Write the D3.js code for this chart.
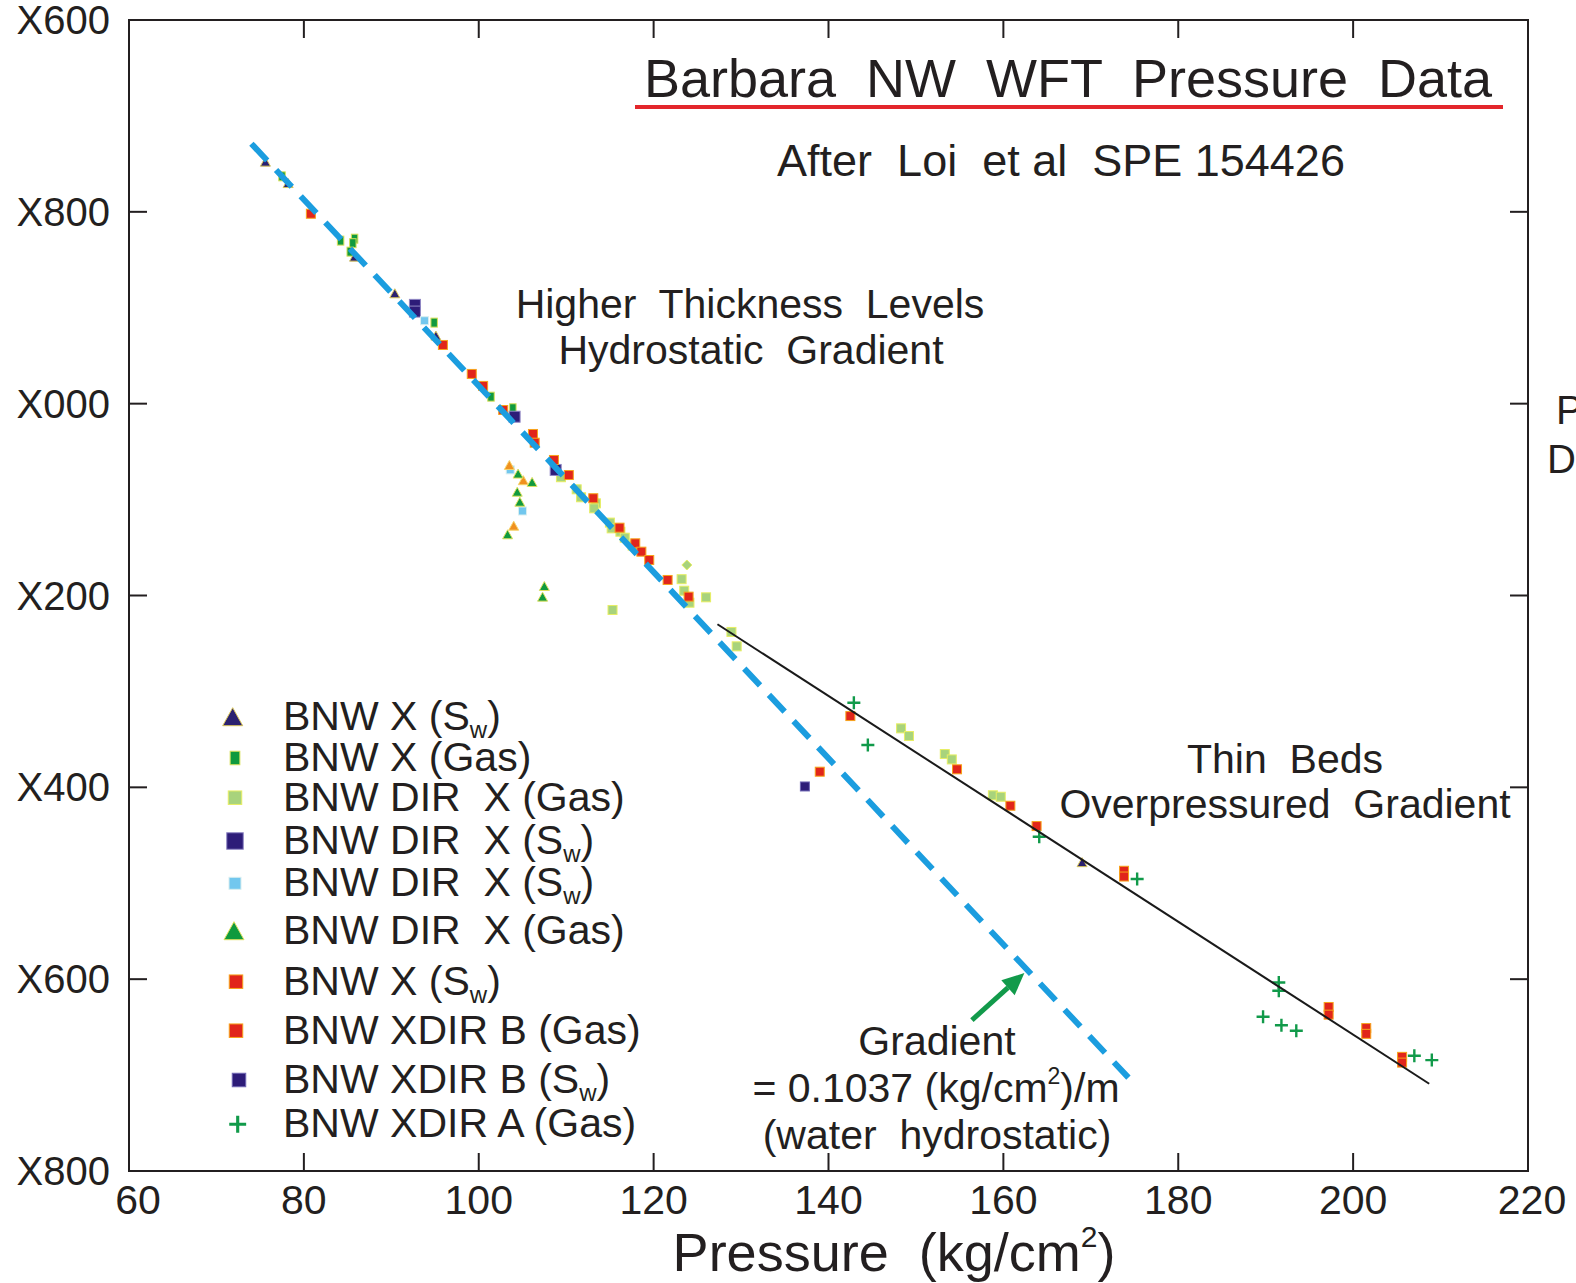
<!DOCTYPE html>
<html><head><meta charset="utf-8">
<script src="https://cdn.jsdelivr.net/npm/d3@7"></script>
<style>
body{margin:0;background:#fff}
svg{display:block}
text{font-family:"Liberation Sans",Arial,sans-serif;fill:#231f20;white-space:pre}
</style>
</head><body>
<svg id="c" width="1576" height="1283"></svg>
<script>
// ---------- data ----------
const xTicks = [60, 80, 100, 120, 140, 160, 180, 200, 220];
const xTickLabels = ["60", "80", "100", "120", "140", "160", "180", "200", "220"];
const yTicks = [600, 800, 1000, 1200, 1400, 1600, 1800];
const yTickLabels = ["X600", "X800", "X000", "X200", "X400", "X600", "X800"];

// [pressure kg/cm2, depth]
const bnwX_Sw_tri = [[75.6,747.7],[78.2,770],[85.8,846.7],[90.4,884.9],[95.1,929],[169.0,1478]];
const bnwX_Gas = [[77.5,763],[84.2,830],[85.8,828],[85.6,832.7],[85.3,841.5],[94.9,915.5],[101.4,992.7],[103.9,1004.8]];
const bnwDirX_Gas = [[109.4,1076.7],[111.2,1089.3],[111.7,1097.6],[113.4,1103.9],[113.2,1109.1],[115.0,1124],[115.2,1130],[116.2,1133.5],[116.7,1139.7],[117.6,1148],[123.2,1183],[123.5,1195],[124.1,1207.5],[126.0,1201.9],[115.3,1215.1],[128.9,1238],[129.5,1253],[148.3,1338.5],[149.2,1346.5],[153.3,1365.3],[154.1,1370.9],[158.8,1408.3],[159.7,1409.8]];
const bnwDirX_Sw_navy = [[92.7,897],[92.7,904],[104.1,1013.6],[108.8,1069.1]];
const bnwDirX_Sw_light = [[93.8,913.5],[103.6,1069],[105.0,1111.9]];
const bnwDirX_Gas_tri = [[104.5,1072.9],[106.1,1081.6],[104.4,1091.8],[104.7,1102.2],[103.3,1136.2],[107.5,1190.1],[107.3,1201.2]];
const bnwX_Sw_red = [[80.8,802],[95.9,938.8],[99.2,969],[100.5,981.5],[102.8,1006.6],[106.2,1031.6],[106.4,1040.7],[108.6,1058.7],[110.3,1074.4],[113.1,1098.6],[116.1,1129.3],[117.9,1145.6],[118.6,1154.3],[119.5,1163],[121.6,1183.8],[124.0,1201.2]];
const bnwXdirB_Gas = [[142.5,1325.7],[139.0,1383.7],[154.7,1381.2],[160.8,1419.2],[163.8,1440.4],[173.8,1487],[173.8,1493],[197.2,1629],[197.2,1637],[201.5,1651],[201.5,1657],[205.6,1681],[205.6,1687]];
const bnwXdirB_Sw = [[137.3,1399.1]];
const bnwXdirA_Gas = [[142.9,1311.8],[144.5,1355.9],[164.1,1451.5],[175.3,1495.6],[191.5,1603.4],[191.5,1612.1],[189.7,1639.2],[191.8,1648],[193.5,1653.8],[207.0,1679.9],[209.0,1684.4]];
const unlistedOrangeTri = [[103.5,1063.9],[105.1,1079.8],[104.0,1127.2]];
const unlistedDiamond = [[123.8,1168.2]];

const hydroLine = [[74.0,729],[174.3,1702.7]];
const overLine = [[127.3,1230],[208.7,1709]];
const arrowLine = [[156.4,1642.7],[162.4,1593.6]];

const legendLabels = [
  ["BNW X (S","w",")"],
  ["BNW X (Gas)"],
  ["BNW DIR  X (Gas)"],
  ["BNW DIR  X (S","w",")"],
  ["BNW DIR  X (S","w",")"],
  ["BNW DIR  X (Gas)"],
  ["BNW X (S","w",")"],
  ["BNW XDIR B (Gas)"],
  ["BNW XDIR B (S","w",")"],
  ["BNW XDIR A (Gas)"]
];

// ---------- styles ----------
const styles = {
  navyTri:  {shape:"tri",  fill:"#2b2170", stroke:"#d9c65a", size:10},
  greenRect:{shape:"rect", fill:"#109a3e", stroke:"#d8e05a", size:9},
  lightGreen:{shape:"sq",  fill:"#a8d37c", stroke:"#e7ee63", size:9},
  navySq:   {shape:"sq",   fill:"#2d1c78", stroke:"#8f86c4", size:11},
  lightBlue:{shape:"sq",   fill:"#72c7ee", stroke:"#d8eef0", size:8},
  greenTri: {shape:"tri",  fill:"#109a3e", stroke:"#e0e060", size:10},
  red:      {shape:"sq",   fill:"#e1251b", stroke:"#f7a21b", size:9},
  redB:     {shape:"sq",   fill:"#e1251b", stroke:"#f7a21b", size:9},
  navySmall:{shape:"sq",   fill:"#2d1c78", stroke:"#6f66b4", size:9},
  plus:     {shape:"plus", fill:"none",    stroke:"#119a4a", size:13},
  orangeTri:{shape:"tri",  fill:"#f0901e", stroke:"#f7d36a", size:10},
  diamond:  {shape:"diamond", fill:"#a8d37c", stroke:"#e7ee63", size:10}
};

const seriesList = [
  {data:bnwDirX_Gas, st:"lightGreen"},
  {data:bnwX_Gas, st:"greenRect"},
  {data:bnwDirX_Sw_navy, st:"navySq"},
  {data:bnwDirX_Sw_light, st:"lightBlue"},
  {data:unlistedOrangeTri, st:"orangeTri"},
  {data:bnwDirX_Gas_tri, st:"greenTri"},
  {data:unlistedDiamond, st:"diamond"},
  {data:bnwX_Sw_red, st:"red"},
  {data:bnwXdirB_Gas, st:"redB"},
  {data:bnwXdirB_Sw, st:"navySmall"},
  {data:bnwX_Sw_tri, st:"navyTri"},
  {data:bnwXdirA_Gas, st:"plus"}
];
const legendStyles = ["navyTri","greenRect","lightGreen","navySq","lightBlue","greenTri","red","redB","navySmall","plus"];

// ---------- layout ----------
const M = {left:129, top:20, right:1528, bottom:1171};
const svg = d3.select("#c");
const x = d3.scaleLinear().domain([60,220]).range([M.left, M.right]);
const y = d3.scaleLinear().domain([600,1800]).range([M.top, M.bottom]);

function drawSymbol(g, cx, cy, st, scale) {
  const s = st.size * (scale||1);
  if (st.shape === "sq") {
    g.append("rect").attr("x", cx - s/2).attr("y", cy - s/2).attr("width", s).attr("height", s)
      .attr("fill", st.fill).attr("stroke", st.stroke).attr("stroke-width", 1);
  } else if (st.shape === "rect") {
    g.append("rect").attr("x", cx - s*0.36).attr("y", cy - s/2).attr("width", s*0.72).attr("height", s)
      .attr("fill", st.fill).attr("stroke", st.stroke).attr("stroke-width", 1);
  } else if (st.shape === "tri") {
    const h = s*0.9;
    g.append("path").attr("d", `M${cx},${cy-h/2}L${cx+s/2},${cy+h/2}L${cx-s/2},${cy+h/2}Z`)
      .attr("fill", st.fill).attr("stroke", st.stroke).attr("stroke-width", 1);
  } else if (st.shape === "diamond") {
    g.append("path").attr("d", `M${cx},${cy-s/2}L${cx+s/2},${cy}L${cx},${cy+s/2}L${cx-s/2},${cy}Z`)
      .attr("fill", st.fill).attr("stroke", st.stroke).attr("stroke-width", 1);
  } else if (st.shape === "plus") {
    g.append("path").attr("d", `M${cx-s/2},${cy}H${cx+s/2}M${cx},${cy-s/2}V${cy+s/2}`)
      .attr("fill", "none").attr("stroke", st.stroke).attr("stroke-width", 2.4*(scale||1));
  }
}

// points
const pts = svg.append("g");
seriesList.forEach(s => {
  s.data.forEach(d => drawSymbol(pts, x(d[0]), y(d[1]), styles[s.st], 1));
});

// lines
const line = d3.line().x(d => x(d[0])).y(d => y(d[1]));
svg.append("path").datum(overLine).attr("d", line)
  .attr("fill","none").attr("stroke","#1a1a1a").attr("stroke-width",2);
svg.append("path").datum(hydroLine).attr("d", line)
  .attr("fill","none").attr("stroke","#1b9ddf").attr("stroke-width",6)
  .attr("stroke-dasharray","23,13");

// arrow
{
  const [a,b] = arrowLine;
  const x1=x(a[0]), y1=y(a[1]), x2=x(b[0]), y2=y(b[1]);
  const ang = Math.atan2(y2-y1, x2-x1);
  const L = 22, W = 10;
  const bx = x2 - L*Math.cos(ang), by = y2 - L*Math.sin(ang);
  svg.append("line").attr("x1",x1).attr("y1",y1).attr("x2",bx).attr("y2",by)
    .attr("stroke","#129a4b").attr("stroke-width",5);
  const px = -Math.sin(ang), py = Math.cos(ang);
  svg.append("path").attr("d",`M${x2},${y2}L${bx+px*W},${by+py*W}L${bx-px*W},${by-py*W}Z`)
    .attr("fill","#129a4b");
}

// frame
svg.append("rect").attr("x",M.left).attr("y",M.top).attr("width",M.right-M.left).attr("height",M.bottom-M.top)
  .attr("fill","none").attr("stroke","#231f20").attr("stroke-width",2);

// ticks (inward, all four sides)
const TL = 18;
const tk = svg.append("g").attr("stroke","#231f20").attr("stroke-width",2);
xTicks.slice(1,-1).forEach(v => {
  tk.append("line").attr("x1",x(v)).attr("x2",x(v)).attr("y1",M.bottom).attr("y2",M.bottom-TL);
  tk.append("line").attr("x1",x(v)).attr("x2",x(v)).attr("y1",M.top).attr("y2",M.top+TL);
});
yTicks.slice(1,-1).forEach(v => {
  tk.append("line").attr("y1",y(v)).attr("y2",y(v)).attr("x1",M.left).attr("x2",M.left+TL);
  tk.append("line").attr("y1",y(v)).attr("y2",y(v)).attr("x1",M.right).attr("x2",M.right-TL);
});

// tick labels
xTicks.forEach((v,i) => {
  const off = i===0 ? 9 : (i===xTicks.length-1 ? 4 : 0);
  svg.append("text").attr("x", x(v) + off).attr("y", 1214)
    .attr("text-anchor","middle").attr("font-size",41).text(xTickLabels[i]);
});
yTicks.forEach((v,i) => {
  svg.append("text").attr("x", 110).attr("y", y(v)+14)
    .attr("text-anchor","end").attr("font-size",40).text(yTickLabels[i]);
});

// axis title
{
  const t = svg.append("text").attr("x",894).attr("y",1271).attr("text-anchor","middle").attr("font-size",54);
  t.append("tspan").text("Pressure  (kg/cm");
  t.append("tspan").attr("font-size",30).attr("dy",-24).text("2");
  t.append("tspan").attr("dy",24).text(")");
}

// title
svg.append("text").attr("x",1068).attr("y",97).attr("text-anchor","middle").attr("font-size",54)
  .text("Barbara  NW  WFT  Pressure  Data");
svg.append("line").attr("x1",635).attr("x2",1503).attr("y1",107).attr("y2",107)
  .attr("stroke","#e3262b").attr("stroke-width",4);
svg.append("text").attr("x",1061).attr("y",176).attr("text-anchor","middle").attr("font-size",45)
  .text("After  Loi  et al  SPE 154426");

// annotations
const AF = 41;
svg.append("text").attr("x",750).attr("y",318).attr("text-anchor","middle").attr("font-size",AF).text("Higher  Thickness  Levels");
svg.append("text").attr("x",751).attr("y",364).attr("text-anchor","middle").attr("font-size",AF).text("Hydrostatic  Gradient");
svg.append("text").attr("x",1285).attr("y",773).attr("text-anchor","middle").attr("font-size",AF).text("Thin  Beds");
svg.append("text").attr("x",1285).attr("y",818).attr("text-anchor","middle").attr("font-size",AF).text("Overpressured  Gradient");
svg.append("text").attr("x",937).attr("y",1055).attr("text-anchor","middle").attr("font-size",AF).text("Gradient");
{
  const t = svg.append("text").attr("x",936).attr("y",1102).attr("text-anchor","middle").attr("font-size",AF);
  t.append("tspan").text("= 0.1037 (kg/cm");
  t.append("tspan").attr("font-size",23).attr("dy",-18).text("2");
  t.append("tspan").attr("dy",18).text(")/m");
}
svg.append("text").attr("x",937).attr("y",1149).attr("text-anchor","middle").attr("font-size",AF).text("(water  hydrostatic)");

// cut-off right labels
svg.append("text").attr("x",1556).attr("y",424).attr("font-size",40).text("P");
svg.append("text").attr("x",1547).attr("y",473).attr("font-size",40).text("D");

// legend
const legY = [716.7, 758, 797.7, 841, 883.3, 930.7, 981.7, 1030.7, 1080, 1124.3];
const legSymX = [232.7, 235, 235, 235, 235, 234, 236, 236, 239, 237.7];
const legG = svg.append("g");
legendLabels.forEach((parts,i) => {
  const st = styles[legendStyles[i]];
  const sc = st.shape==="tri" ? 2.0 : st.shape==="plus" ? 1.3 : 1.5;
  drawSymbol(legG, legSymX[i], legY[i], st, sc);
  const t = legG.append("text").attr("x",283).attr("y",legY[i]+13).attr("font-size",41);
  t.append("tspan").text(parts[0]);
  if (parts.length > 1) {
    t.append("tspan").attr("font-size",24).attr("dy",8).text(parts[1]);
    t.append("tspan").attr("dy",-8).text(parts[2]);
  }
});
</script>
</body></html>
